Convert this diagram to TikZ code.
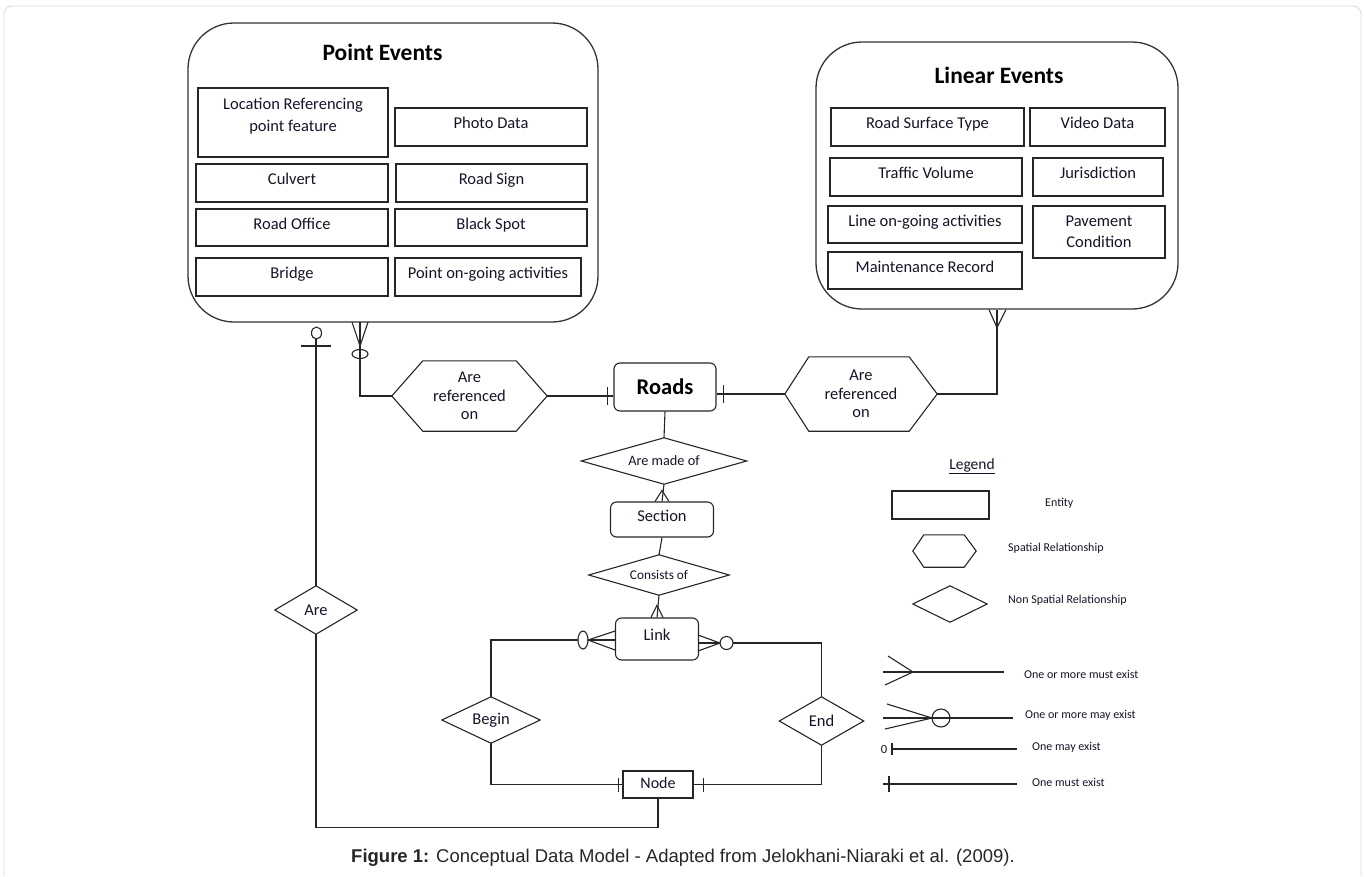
\documentclass[tikz,border=0pt]{standalone}
\usepackage{fontspec}
\setmainfont{Carlito}
\newfontfamily\capfont{Liberation Sans}
\usetikzlibrary{calc}
\definecolor{txt}{RGB}{20,20,40}
\begin{document}
\begin{tikzpicture}[x=1pt,y=-1pt,
  ln/.style={line width=1.1pt, draw=black!85},
  ent/.style={ln, rectangle, inner sep=0pt, text=txt, font=\fontsize{16.5}{22}\selectfont, text height=12pt, text depth=9pt},
  ent2/.style={ln, rectangle, inner sep=0pt, text=txt, align=center, font=\fontsize{16.5}{21}\selectfont},
  rent/.style={ent, rounded corners=6pt},
  cont/.style={line width=1.3pt, draw=black!80, rectangle, rounded corners=46pt, inner sep=0pt},
  rel/.style={rectangle, inner sep=0pt, align=center, text=txt},
  ttl/.style={inner sep=0pt, font=\fontsize{23.5}{28}\selectfont\bfseries},
  lg/.style={inner sep=0pt, anchor=west, text=txt, font=\fontsize{12}{14}\selectfont}
]
\useasboundingbox (0,0) rectangle (1365,876);
\draw[black!15, line width=0.8pt, rounded corners=8pt] (4,876) -- (4,6) -- (1361,6) -- (1361,876);

% ---------- Point events ----------
\node[cont, minimum width=410pt, minimum height=299pt] (pe) at (393,172.5) {};
\node[ttl] (peT) at (382.5,52) {Point Events};
\node[ln, rectangle, minimum width=190pt, minimum height=69pt, inner sep=0pt] (loc) at (293,122.5) {};
\node[rel, font=\fontsize{16.5}{22}\selectfont] (locT) at (293,116.5) {Location Referencing\\point feature};
\node[ent, minimum width=192pt, minimum height=38pt] (photo) at (491,127) {Photo Data};
\node[ent, minimum width=192pt, minimum height=38pt] (culv) at (292,183) {Culvert};
\node[ent, minimum width=191pt, minimum height=38pt] (sign) at (491.5,183) {Road Sign};
\node[ent, minimum width=192pt, minimum height=37pt] (office) at (292,227.5) {Road Office};
\node[ent, minimum width=192pt, minimum height=37pt] (black) at (491,227.5) {Black Spot};
\node[ent, minimum width=192pt, minimum height=38pt] (bridge) at (292,277) {Bridge};
\node[ent, minimum width=186pt, minimum height=38pt] (pact) at (488,277) {Point on-going activities};

% ---------- Linear events ----------
\node[cont, minimum width=362pt, minimum height=267pt] (le) at (997,175.5) {};
\node[ttl] (leT) at (999,75) {Linear Events};
\node[ent, minimum width=193pt, minimum height=38pt] (rst) at (927.5,127) {Road Surface Type};
\node[ent, minimum width=135pt, minimum height=38pt] (video) at (1097.5,127) {Video Data};
\node[ent, minimum width=192pt, minimum height=38pt] (traffic) at (926,177) {Traffic Volume};
\node[ent, minimum width=130pt, minimum height=38pt] (juris) at (1098,177) {Jurisdiction};
\node[ent, minimum width=194pt, minimum height=37pt] (lact) at (925,224.5) {Line on-going activities};
\node[ent2, minimum width=132pt, minimum height=52pt] (pave) at (1099,232) {Pavement\\Condition};
\node[ent, minimum width=194pt, minimum height=37pt] (maint) at (925,270.5) {Maintenance Record};

% ---------- Central entities ----------
\node[ln, rectangle, rounded corners=6pt, inner sep=0pt, minimum width=102pt, minimum height=48pt, font=\fontsize{22.5}{26}\selectfont\bfseries, text=black] (roads) at (665,387) {Roads};
\node[rent, minimum width=103pt, minimum height=35pt, font=\fontsize{16.5}{20}\selectfont] (section) at (662,519.5) {Section};
\node[rent, minimum width=83pt, minimum height=42pt, font=\fontsize{16.5}{20}\selectfont] (link) at (657,639) {Link};
\node[ent, minimum width=70pt, minimum height=27pt, font=\fontsize{16}{20}\selectfont, text height=11pt, text depth=4pt] (node) at (658,784.5) {Node};

% hexagons
\node[rel, minimum width=155pt, minimum height=70pt, font=\fontsize{16.5}{18.5}\selectfont] (hexL) at (469.5,396) {Are\\referenced\\on};
\draw[ln] (hexL.west) -- ($(hexL.north west)+(31,0)$) -- ($(hexL.north east)+(-31,0)$) -- (hexL.east) -- ($(hexL.south east)+(-31,0)$) -- ($(hexL.south west)+(31,0)$) -- cycle;
\node[rel, minimum width=152pt, minimum height=74pt, font=\fontsize{16.5}{18.5}\selectfont] (hexR) at (861,394) {Are\\referenced\\on};
\draw[ln] (hexR.west) -- ($(hexR.north west)+(24,0)$) -- ($(hexR.north east)+(-28,0)$) -- (hexR.east) -- ($(hexR.south east)+(-28,0)$) -- ($(hexR.south west)+(24,0)$) -- cycle;

% diamonds
\node[rel, minimum width=165pt, minimum height=46pt, font=\fontsize{14.3}{16}\selectfont] (made) at (664,461) {Are made of};
\draw[ln] (made.west) -- (made.north) -- (made.east) -- (made.south) -- cycle;
\node[rel, minimum width=140pt, minimum height=40pt, font=\fontsize{13.3}{15}\selectfont] (cons) at (659,575) {Consists of};
\draw[ln] (cons.west) -- (cons.north) -- (cons.east) -- (cons.south) -- cycle;
\node[rel, minimum width=98pt, minimum height=46pt, font=\fontsize{16.5}{18}\selectfont] (begin) at (491,720) {Begin};
\draw[ln] (begin.west) -- (begin.north) -- (begin.east) -- (begin.south) -- cycle;
\node[rel, minimum width=84pt, minimum height=48pt, font=\fontsize{16.5}{18}\selectfont] (endd) at (821.5,721) {End};
\draw[ln] (endd.west) -- (endd.north) -- (endd.east) -- (endd.south) -- cycle;
\node[rel, minimum width=82pt, minimum height=48pt, font=\fontsize{16.5}{18}\selectfont] (are) at (316,610) {Are};
\draw[ln] (are.west) -- (are.north) -- (are.east) -- (are.south) -- cycle;

% ---------- Connectors ----------
% Point events -- hexL
\coordinate (peFoot) at (360,322);
\draw[ln] (hexL.west) -| (peFoot);
\draw[ln] ($(peFoot)+(-8,0)$) -- ($(peFoot)+(0,24)$) -- ($(peFoot)+(8,0)$);
\draw[ln] ($(peFoot)+(0,32)$) ellipse [x radius=8pt, y radius=4.5pt];
% hexL -- roads
\draw[ln] (hexL.east) -- (hexL.east -| roads.west);
\draw[ln] ($(hexL.east -| roads.west)+(-6,-9)$) -- ++(0,18);
% roads -- hexR
\draw[ln] (hexR.west) -- (hexR.west -| roads.east);
\draw[ln] ($(hexR.west -| roads.east)+(7,-9)$) -- ++(0,18);
% hexR -- linear events
\draw[ln] (hexR.east) -| (le.south);
\draw[ln] ($(le.south)+(-8,0)$) -- ($(le.south)+(0,18)$) -- ($(le.south)+(9,0)$);
% roads -- made of -- section
\draw[ln] (roads.south) -- (made.north);
\draw[ln] (made.south) -- (section.north);
\draw[ln] ($(section.north)+(-7,0)$) -- ($(section.north)+(0,-11)$) -- ($(section.north)+(7,0)$);
% section -- consists -- link
\draw[ln] (section.south) -- (cons.north);
\draw[ln] (cons.south) -- (link.north);
\draw[ln] ($(link.north)+(-6,0)$) -- ($(link.north)+(0,-12)$) -- ($(link.north)+(6,0)$);
% link -- begin
\coordinate (lkL) at (578,640);
\draw[ln] (lkL) -| (begin.north);
\draw[ln] (583,640) ellipse [x radius=5pt, y radius=9pt];
\draw[ln] (615,631) -- (588,640) -- (615,650);
\draw[ln] (588,640) -- (615,640);
% link -- end
\coordinate (lkR) at (733,643);
\draw[ln] (lkR) -| (endd.north);
\draw[ln] (726.5,643) circle [radius=6.5pt];
\draw[ln] (698,635) -- (720,643) -- (698,651);
\draw[ln] (698,643) -- (720,643);
% begin/end -- node
\draw[ln] (begin.south) |- (node.west);
\draw[ln] ($(node.west)+(-4,-7)$) -- ++(0,14);
\draw[ln] (endd.south) |- (node.east);
\draw[ln] ($(node.east)+(10,-7)$) -- ++(0,14);
% node -- are -- point events
\draw[ln] (node.south) -- ++(0,29) -| (are.south);
\coordinate (areTop) at (316,339);
\draw[ln] (are.north) -- (areTop);
\draw[ln] (301,346) -- (331,346);
\draw[ln] (316.5,333) ellipse [x radius=5pt, y radius=6pt];

% ---------- Legend ----------
\node[inner sep=0pt, text=txt, font=\fontsize{15.5}{18}\selectfont] (leg) at (972,466) {\underline{Legend}};
\node[ln, rectangle, inner sep=0pt, minimum width=97pt, minimum height=28pt] (lgEnt) at (940.5,505) {};
\node[lg] (lgEntT) at (1045,503) {Entity};
\node[rel, minimum width=63pt, minimum height=32pt] (lgHex) at (944.5,551) {};
\draw[ln] (lgHex.west) -- ($(lgHex.north west)+(11,0)$) -- ($(lgHex.north east)+(-12,0)$) -- (lgHex.east) -- ($(lgHex.south east)+(-12,0)$) -- ($(lgHex.south west)+(11,0)$) -- cycle;
\node[lg] (lgHexT) at (1008,548) {Spatial Relationship};
\node[rel, minimum width=74pt, minimum height=36pt] (lgDia) at (950,604) {};
\draw[ln] (lgDia.west) -- (lgDia.north) -- (lgDia.east) -- (lgDia.south) -- cycle;
\node[lg] (lgDiaT) at (1008,600) {Non Spatial Relationship};

\coordinate (m1a) at (883,672); \coordinate (m1b) at (1004,672);
\draw[ln] (m1a) -- (m1b);
\draw[ln] (888,656) -- (913,672) -- (885,685);
\node[lg] (m1T) at (1024,674) {One or more must exist};

\coordinate (m2a) at (883,718); \coordinate (m2b) at (1013,718);
\draw[ln] (m2a) -- (m2b);
\draw[ln] (887,704) -- (932,718) -- (885,729);
\draw[ln] (941,718) circle [radius=9pt];
\node[lg] (m2T) at (1025,715) {One or more may exist};

\node[inner sep=0pt, text=txt, font=\fontsize{12.5}{14}\selectfont] (m3z) at (884,749) {0};
\coordinate (m3a) at (892,749); \coordinate (m3b) at (1017,749);
\draw[ln] (m3a) -- (m3b);
\draw[ln] (892,743) -- (892,755);
\node[lg] (m3T) at (1032,747) {One may exist};

\coordinate (m4a) at (883,784); \coordinate (m4b) at (1017,784);
\draw[ln] (m4a) -- (m4b);
\draw[ln] (889,776) -- (889,792);
\node[lg] (m4T) at (1032,782) {One must exist};

% ---------- Caption ----------
\node[inner sep=0pt, text=black!85, font=\capfont\fontsize{18.5}{21}\selectfont] (cap) at (683,858) {\textbf{Figure 1:} Conceptual Data Model - Adapted from Jelokhani-Niaraki et al. (2009).};
\end{tikzpicture}
\end{document}
